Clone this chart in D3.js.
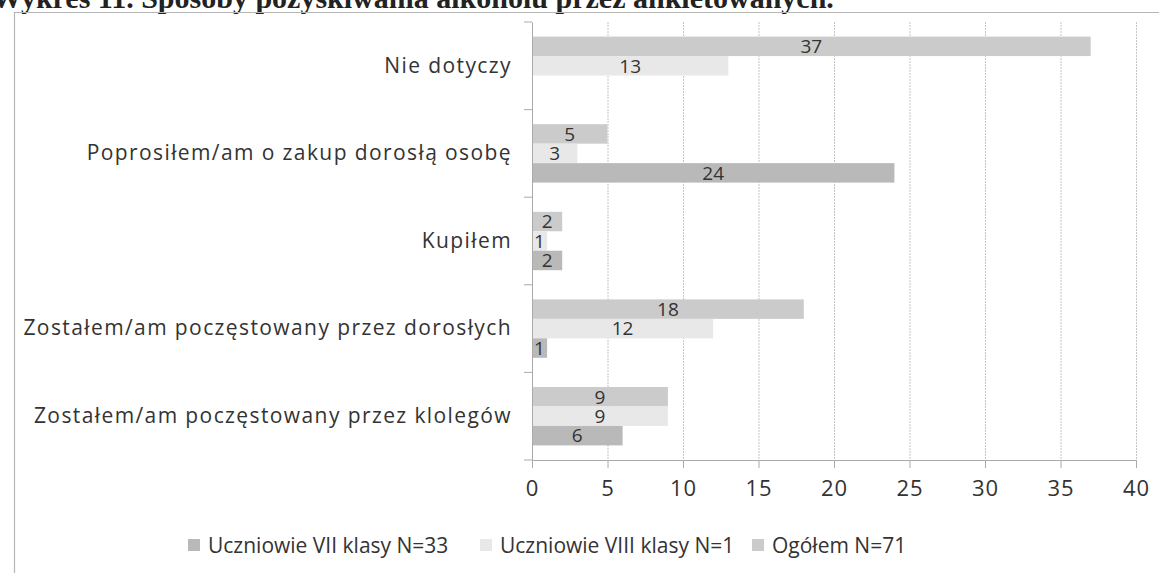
<!DOCTYPE html>
<html><head><meta charset="utf-8">
<script src="https://cdn.jsdelivr.net/npm/d3@7"></script>
<style>
html,body{margin:0;padding:0;background:#fff;}
svg{display:block;}
</style></head>
<body>
<script>
const categories = ["Nie dotyczy","Poprosiłem/am o zakup dorosłą osobę","Kupiłem","Zostałem/am poczęstowany przez dorosłych","Zostałem/am poczęstowany przez klolegów"];
const seriesNames = ["Uczniowie VII klasy N=33","Uczniowie VIII klasy N=1","Ogółem N=71"];
const valuesVII = [null,24,2,1,6];
const valuesVIII = [13,3,1,12,9];
const valuesOgolem = [37,5,2,18,9];
const xTicks = [0,5,10,15,20,25,30,35,40];
const titleText = "Wykres 11. Sposoby pozyskiwania alkoholu przez ankietowanych.";

const W = 1159, H = 573;
const colors = {"Uczniowie VII klasy N=33":"#b9b9b9","Uczniowie VIII klasy N=1":"#e8e8e8","Ogółem N=71":"#cbcbcb"};
const seriesData = {"Uczniowie VII klasy N=33":valuesVII,"Uczniowie VIII klasy N=1":valuesVIII,"Ogółem N=71":valuesOgolem};
const barOrder = ["Ogółem N=71","Uczniowie VIII klasy N=1","Uczniowie VII klasy N=33"];

const svg = d3.select("body").append("svg").attr("width",W).attr("height",H);
const font = "'Open Sans', sans-serif";

// title, cut off at the top edge as in the scanned reference
svg.append("text").attr("x",-8).attr("y",8)
  .attr("font-family","'Liberation Serif', 'Times New Roman', serif")
  .attr("font-weight","bold").attr("font-size",30).attr("fill","#222")
  .text(titleText);

svg.append("path").attr("d",`M14.5,${H} V12.5 H${W}`).attr("fill","none")
  .attr("stroke","#b5b5b5").attr("stroke-width",1.2);

const pLeft = 532, pRight = 1136, pTop = 22, pBottom = 460;
const x = d3.scaleLinear().domain([0,40]).range([pLeft,pRight]);
const y = d3.scaleBand().domain(categories).range([pTop,pBottom]);
const inner = d3.scaleBand().domain(barOrder).range([0,y.bandwidth()]).paddingInner(0).paddingOuter(0.75);

svg.append("g").selectAll("line").data(xTicks.slice(1)).join("line")
  .attr("x1",d=>x(d)+0.5).attr("x2",d=>x(d)+0.5).attr("y1",pTop).attr("y2",pBottom)
  .attr("stroke","#c4c4c4").attr("stroke-width",1).attr("stroke-dasharray","2,1");

const groups = svg.append("g").selectAll("g").data(categories).join("g")
  .attr("transform",d=>`translate(0,${y(d)})`);
groups.each(function(cat,i){
  const g = d3.select(this);
  barOrder.forEach(s=>{
    const v = seriesData[s][i];
    if(v==null) return;
    g.append("rect").attr("x",x(0)).attr("y",inner(s)).attr("width",x(v)-x(0)).attr("height",inner.bandwidth())
      .attr("fill",colors[s]);
    g.append("text").attr("x",(x(0)+x(v))/2).attr("y",inner(s)+inner.bandwidth()/2)
      .attr("dy","0.36em").attr("text-anchor","middle")
      .attr("font-family",font).attr("font-size",19).attr("fill","#333").text(v);
  });
});

const xAxis = svg.append("g").attr("transform",`translate(0,${pBottom})`)
  .call(d3.axisBottom(x).tickValues(xTicks).tickSize(8).tickPadding(12));
xAxis.select(".domain").attr("stroke","#aaa");
xAxis.selectAll(".tick line").attr("stroke","#aaa");
xAxis.selectAll("text").attr("font-family",font).attr("font-size",22).attr("letter-spacing",1).attr("fill","#333");

const yAxis = svg.append("g").attr("transform",`translate(${pLeft},0)`)
  .call(d3.axisLeft(y).tickSize(0).tickPadding(20));
yAxis.select(".domain").attr("stroke","#aaa");
yAxis.selectAll("text").attr("font-family",font).attr("font-size",21).attr("letter-spacing",1.4).attr("fill","#333");
svg.append("g").selectAll("line").data(d3.range(categories.length+1)).join("line")
  .attr("x1",pLeft-8).attr("x2",pLeft).attr("y1",i=>pTop+i*y.step()).attr("y2",i=>pTop+i*y.step())
  .attr("stroke","#aaa");

const legendX = [188,480,752];
const leg = svg.append("g").selectAll("g").data(seriesNames).join("g")
  .attr("transform",(d,i)=>`translate(${legendX[i]},545)`);
leg.append("rect").attr("x",0).attr("y",-6).attr("width",12).attr("height",12).attr("fill",d=>colors[d]);
leg.append("text").attr("x",20).attr("dy","0.36em").attr("font-family",font).attr("font-size",21)
  .attr("fill","#333").text(d=>d);
</script>
</body></html>
